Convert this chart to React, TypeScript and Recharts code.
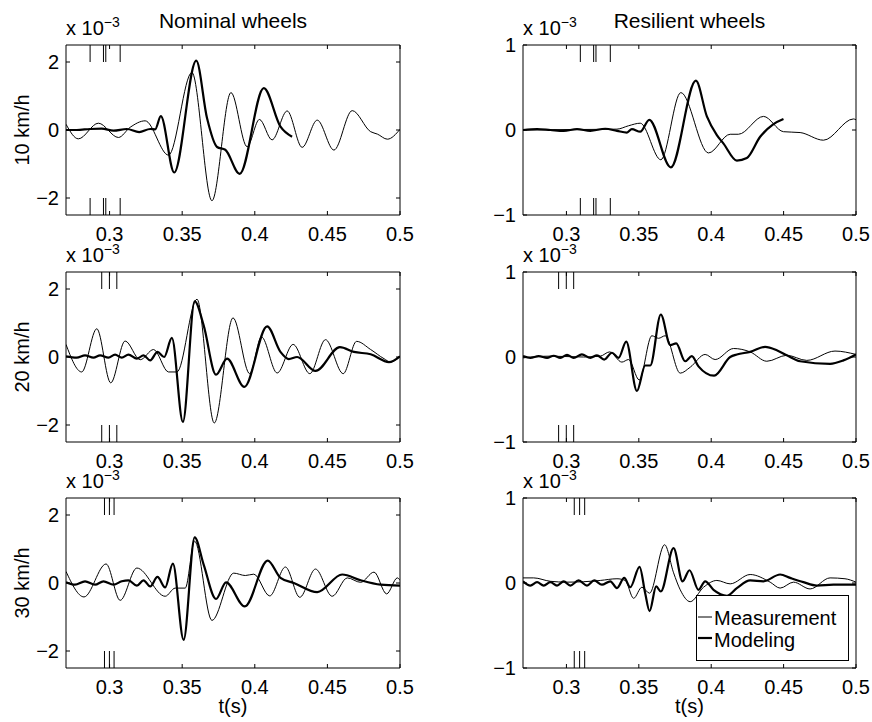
import React from 'react';
import { LineChart, Line, XAxis, YAxis, ReferenceLine, Legend } from 'recharts';

type Pt = [number, number];

const FONT = '"Liberation Sans", Arial, Helvetica, sans-serif';

const TIME_DOMAIN: [number, number] = [0.27, 0.5];
const TIME_TICKS = [0.3, 0.35, 0.4, 0.45, 0.5];
const NOMINAL_DOMAIN: [number, number] = [-2.5, 2.5];
const NOMINAL_TICKS = [-2, 0, 2];
const RESILIENT_DOMAIN: [number, number] = [-1, 1];
const RESILIENT_TICKS = [-1, 0, 1];
const WHEEL_TITLES = ['Nominal wheels', 'Resilient wheels'];
const SPEED_LABELS = ['10 km/h', '20 km/h', '30 km/h'];
const SERIES_NAMES = ['Measurement', 'Modeling'];
const SCALE_BASE = 'x 10';
const SCALE_EXP = '\u22123';
const X_LABEL = 't(s)';

// ---- Nominal wheels, 10 km/h ----
const nominal10Measurement: Pt[] = [
  [0.27, 0.17], [0.2785, -0.26], [0.2923, 0.2], [0.3061, -0.22], [0.3142, 0.08], [0.3245, 0.27],
  [0.3406, -0.74], [0.3567, 1.69], [0.3705, -2.08], [0.3836, 1.1], [0.3947, -0.49], [0.4032, 0.31],
  [0.4119, -0.29], [0.4223, 0.56], [0.4326, -0.51], [0.443, 0.29], [0.4545, -0.59], [0.4671, 0.57],
  [0.4798, -0.05], [0.4844, -0.12], [0.4913, -0.27], [0.5, 0.02],
];
const nominal10Modeling: Pt[] = [
  [0.27, 0.0], [0.2774, 0.0], [0.2866, 0.03], [0.2946, 0.04], [0.3027, -0.02], [0.3119, 0.03],
  [0.3204, -0.06], [0.328, 0.03], [0.3314, 0.02], [0.3353, 0.41], [0.3445, -1.25], [0.3597, 2.04],
  [0.3671, 0.35], [0.374, -0.5], [0.3797, -0.58], [0.3896, -1.29], [0.4062, 1.23], [0.4177, 0.1],
  [0.4257, -0.2],
];
const nominal10Marks = [0.2866, 0.2958, 0.2974, 0.3073];

// ---- Resilient wheels, 10 km/h ----
const resilient10Measurement: Pt[] = [
  [0.27, 0.0], [0.3004, 0.005], [0.3349, 0.01], [0.3429, 0.05], [0.351, 0.08], [0.3652, -0.35],
  [0.379, 0.44], [0.3981, -0.27], [0.4131, -0.05], [0.4188, -0.05], [0.4361, 0.16], [0.4499, -0.02],
  [0.4614, -0.03], [0.4775, -0.12], [0.4982, 0.13], [0.5, 0.12],
];
const resilient10Modeling: Pt[] = [
  [0.27, 0.0], [0.2797, 0.01], [0.2889, 0.0], [0.2981, -0.01], [0.3073, 0.01], [0.3165, -0.01],
  [0.3268, 0.015], [0.3349, -0.01], [0.3418, -0.03], [0.3452, 0.01], [0.351, -0.02], [0.3572, 0.12],
  [0.3721, -0.44], [0.3894, 0.58], [0.397, 0.16], [0.4039, -0.06], [0.4085, -0.16], [0.4177, -0.36],
  [0.4246, -0.33], [0.4338, -0.08], [0.443, 0.07], [0.4499, 0.13],
];
const resilient10Marks = [0.3096, 0.3188, 0.3204, 0.3303];

// ---- Nominal wheels, 20 km/h ----
const nominal20Measurement: Pt[] = [
  [0.27, 0.37], [0.2808, -0.44], [0.2912, 0.83], [0.3008, -0.76], [0.3107, 0.47], [0.3211, -0.08],
  [0.3303, 0.22], [0.3406, -0.44], [0.3464, -0.44], [0.3602, 1.7], [0.3721, -1.94], [0.385, 1.15],
  [0.3965, -0.49], [0.4046, 0.59], [0.4154, -0.47], [0.4264, 0.37], [0.4379, -0.49], [0.4487, 0.51],
  [0.4609, -0.49], [0.4701, 0.46], [0.4798, 0.22], [0.489, -0.05], [0.4936, -0.15], [0.5, 0.02],
];
const nominal20Modeling: Pt[] = [
  [0.27, 0.02], [0.2774, -0.02], [0.2831, 0.05], [0.2889, -0.02], [0.2935, 0.05], [0.2992, -0.02],
  [0.3038, 0.07], [0.3084, -0.02], [0.313, 0.07], [0.3188, -0.05], [0.3234, 0.05], [0.328, -0.1],
  [0.333, 0.15], [0.3376, 0.0], [0.3429, 0.56], [0.3505, -1.91], [0.3586, 1.64], [0.3648, 0.93],
  [0.3733, -0.52], [0.3809, -0.05], [0.3928, -0.88], [0.4085, 0.9], [0.4177, 0.15], [0.4234, -0.06],
  [0.4292, 0.0], [0.4418, -0.41], [0.4586, 0.29], [0.4683, 0.15], [0.4798, 0.08], [0.4924, -0.15],
  [0.5, 0.02],
];
const nominal20Marks = [0.2946, 0.2999, 0.305];

// ---- Resilient wheels, 20 km/h ----
const resilient20Measurement: Pt[] = [
  [0.27, -0.01], [0.2889, 0.01], [0.3119, 0.0], [0.3234, 0.01], [0.3298, 0.06], [0.3383, -0.06],
  [0.3429, -0.03], [0.3503, -0.27], [0.359, 0.25], [0.3636, 0.22], [0.3682, 0.25], [0.3786, -0.19],
  [0.3855, -0.12], [0.3958, 0.03], [0.4027, -0.03], [0.4154, 0.1], [0.4269, 0.06], [0.4384, -0.05],
  [0.4522, 0.02], [0.466, -0.04], [0.4855, 0.07], [0.5, 0.03],
];
const resilient20Modeling: Pt[] = [
  [0.27, 0.01], [0.2751, -0.01], [0.2808, 0.01], [0.2866, -0.01], [0.2912, 0.015], [0.2958, -0.01],
  [0.3004, 0.025], [0.305, -0.01], [0.3107, 0.03], [0.3165, -0.01], [0.3211, 0.02], [0.3261, -0.03],
  [0.3314, 0.05], [0.336, -0.01], [0.3413, 0.18], [0.3487, -0.4], [0.3544, -0.1], [0.3579, -0.1],
  [0.3652, 0.5], [0.3717, 0.14], [0.3758, 0.16], [0.382, -0.05], [0.3866, 0.01], [0.3912, -0.11],
  [0.402, -0.22], [0.4131, 0.0], [0.4177, 0.03], [0.4269, 0.06], [0.4372, 0.12], [0.4453, 0.08],
  [0.4522, 0.02], [0.4614, -0.05], [0.4821, -0.08], [0.4913, -0.04], [0.5, 0.03],
];
const resilient20Marks = [0.2946, 0.2999, 0.305];

// ---- Nominal wheels, 30 km/h ----
const nominal30Measurement: Pt[] = [
  [0.27, 0.34], [0.2824, -0.41], [0.2976, 0.56], [0.3073, -0.51], [0.3188, 0.44], [0.3383, -0.39],
  [0.3452, -0.15], [0.3521, -0.15], [0.3586, 1.23], [0.3705, -1.1], [0.3855, 0.29], [0.3935, 0.22],
  [0.3993, 0.26], [0.4103, -0.38], [0.4211, 0.47], [0.431, -0.42], [0.4418, 0.41], [0.4533, -0.39],
  [0.4637, 0.15], [0.4729, 0.02], [0.4821, 0.32], [0.4908, -0.32], [0.4982, 0.15], [0.5, 0.08],
];
const nominal30Modeling: Pt[] = [
  [0.27, 0.02], [0.2762, -0.05], [0.2831, 0.05], [0.29, -0.05], [0.2958, 0.05], [0.3027, -0.05],
  [0.3084, 0.05], [0.313, 0.08], [0.3188, -0.08], [0.3234, 0.08], [0.328, -0.1], [0.333, 0.18],
  [0.3383, -0.13], [0.3436, 0.57], [0.351, -1.67], [0.3586, 1.34], [0.3648, 0.54], [0.3733, -0.47],
  [0.3802, 0.02], [0.3931, -0.69], [0.4089, 0.66], [0.4177, 0.15], [0.4269, 0.0], [0.443, -0.27],
  [0.4602, 0.25], [0.4729, 0.08], [0.4867, -0.05], [0.5, -0.08],
];
const nominal30Marks = [0.2965, 0.2999, 0.3031];

// ---- Resilient wheels, 30 km/h ----
const resilient30Measurement: Pt[] = [
  [0.27, 0.06], [0.2774, 0.06], [0.2889, 0.02], [0.3004, 0.01], [0.3119, 0.015], [0.3234, 0.03],
  [0.3349, 0.05], [0.3406, 0.03], [0.3464, -0.18], [0.3521, -0.05], [0.3574, -0.12], [0.3678, 0.45],
  [0.374, 0.12], [0.3786, -0.08], [0.3855, -0.22], [0.3947, -0.05], [0.4039, 0.03], [0.4131, -0.01],
  [0.4269, 0.1], [0.4407, 0.01], [0.4476, -0.06], [0.4568, 0.01], [0.4683, -0.07], [0.4821, 0.06],
  [0.4924, 0.05], [0.5, 0.01],
];
const resilient30Modeling: Pt[] = [
  [0.27, 0.02], [0.2751, -0.03], [0.2797, 0.01], [0.2843, -0.03], [0.2889, 0.01], [0.2935, -0.03],
  [0.2981, 0.02], [0.3027, -0.03], [0.3084, 0.03], [0.3142, -0.03], [0.3192, 0.03], [0.3245, -0.02],
  [0.3303, 0.02], [0.3349, -0.06], [0.3399, 0.06], [0.3441, -0.05], [0.3505, 0.19], [0.3544, -0.12],
  [0.3574, -0.33], [0.362, -0.04], [0.3652, -0.1], [0.374, 0.41], [0.3802, 0.02], [0.385, 0.15],
  [0.3912, -0.08], [0.3958, 0.02], [0.4016, -0.08], [0.4108, -0.15], [0.4177, -0.06], [0.4269, 0.03],
  [0.4361, 0.02], [0.4476, 0.1], [0.4545, 0.06], [0.4637, 0.01], [0.4729, -0.03], [0.4844, -0.02],
  [0.5, -0.02],
];
const resilient30Marks = [0.3054, 0.3091, 0.3126];

// ---- layout (pixels) ----
const COL_LEFT = [66, 523];
const COL_WIDTH = [334, 333];
const ROW_TOP = [45, 272, 498];
const PLOT_H = 170;
const TICK_PX = 4;

const toRows = (pts: Pt[]) => pts.map(([t, v]) => ({ t, v }));
const fmtMinus = (v: number) => String(v).replace('-', '\u2212');

const renderLegend = (props: any) => {
  const payload = props.payload || [];
  return (
    <svg width={153} height={66} style={{ display: 'block', fontFamily: FONT }}>
      <rect x={0.5} y={0.5} width={152} height={65} fill="#fff" stroke="#000" strokeWidth={1} />
      {payload.map((p: any, i: number) => (
        <g key={i}>
          <line
            x1={2}
            x2={16}
            y1={22 + 21 * i}
            y2={22 + 21 * i}
            stroke="#000"
            strokeWidth={(p.payload && p.payload.strokeWidth) || 1}
          />
          <text x={18} y={30 + 21.5 * i} fontSize={20} fill="#000">
            {p.value}
          </text>
        </g>
      ))}
    </svg>
  );
};

type PanelProps = {
  col: number;
  row: number;
  meas: Pt[];
  mod: Pt[];
  marks: number[];
  domain: [number, number];
  ticks: number[];
  legend?: boolean;
};

function Panel({ col, row, meas, mod, marks, domain, ticks, legend }: PanelProps) {
  const plotLeft = COL_LEFT[col];
  const plotTop = ROW_TOP[row];
  const plotW = COL_WIDTH[col];
  const ML = 10;
  const YW = 50;
  const MR = 26;
  const MT = 10;
  const XH = 30;
  const MB = 10;
  const width = plotW + ML + YW + MR;
  const height = PLOT_H + MT + XH + MB;
  const span = (domain[1] - domain[0]) * 0.1;
  const tickLenY = ((domain[1] - domain[0]) * TICK_PX) / PLOT_H;
  const tickLenX = ((TIME_DOMAIN[1] - TIME_DOMAIN[0]) * TICK_PX) / plotW;
  const axisCommonX = {
    type: 'number' as const,
    domain: TIME_DOMAIN,
    ticks: TIME_TICKS,
    interval: 0 as const,
    allowDataOverflow: true,
  };
  const axisCommonY = {
    type: 'number' as const,
    domain: domain,
    ticks: ticks,
    interval: 0 as const,
    allowDataOverflow: true,
  };
  const tickSegs: { x: number; y: number }[][] = [];
  TIME_TICKS.forEach((t) => {
    tickSegs.push([{ x: t, y: domain[0] }, { x: t, y: domain[0] + tickLenY }]);
    tickSegs.push([{ x: t, y: domain[1] }, { x: t, y: domain[1] - tickLenY }]);
  });
  ticks.forEach((v) => {
    tickSegs.push([{ x: TIME_DOMAIN[0], y: v }, { x: TIME_DOMAIN[0] + tickLenX, y: v }]);
    tickSegs.push([{ x: TIME_DOMAIN[1], y: v }, { x: TIME_DOMAIN[1] - tickLenX, y: v }]);
  });
  return (
    <div style={{ position: 'absolute', left: plotLeft - ML - YW, top: plotTop - MT }}>
      <LineChart width={width} height={height} margin={{ top: MT, right: MR, bottom: MB, left: ML }}>
        <XAxis
          xAxisId="b"
          dataKey="t"
          {...axisCommonX}
          height={XH}
          tickSize={0}
          tickMargin={12}
          tickLine={false}
          axisLine={{ stroke: '#000' }}
          tick={{ fill: '#000', fontSize: 20 }}
        />
        <XAxis xAxisId="tIn" orientation="top" mirror {...axisCommonX} tick={false} tickLine={false} axisLine={{ stroke: '#000' }} />
        <YAxis
          yAxisId="l"
          {...axisCommonY}
          width={YW}
          tickSize={0}
          tickMargin={7}
          tickLine={false}
          axisLine={{ stroke: '#000' }}
          tick={{ fill: '#000', fontSize: 20 }}
          tickFormatter={fmtMinus}
        />
        <YAxis yAxisId="rIn" orientation="right" mirror {...axisCommonY} tick={false} tickLine={false} axisLine={{ stroke: '#000' }} />
        {tickSegs.map((seg, i) => (
          <ReferenceLine key={'tk' + i} xAxisId="b" yAxisId="l" segment={seg} stroke="#000" strokeWidth={1} />
        ))}
        {marks.map((m, i) => (
          <ReferenceLine
            key={'mt' + i}
            xAxisId="b"
            yAxisId="l"
            segment={[{ x: m, y: domain[1] }, { x: m, y: domain[1] - span }]}
            stroke="#000"
            strokeWidth={1}
          />
        ))}
        {marks.map((m, i) => (
          <ReferenceLine
            key={'mb' + i}
            xAxisId="b"
            yAxisId="l"
            segment={[{ x: m, y: domain[0] }, { x: m, y: domain[0] + span }]}
            stroke="#000"
            strokeWidth={1}
          />
        ))}
        <Line
          xAxisId="b"
          yAxisId="l"
          data={toRows(meas)}
          dataKey="v"
          name={SERIES_NAMES[0]}
          type="monotone"
          stroke="#000"
          strokeWidth={1}
          dot={false}
          activeDot={false}
          isAnimationActive={false}
        />
        <Line
          xAxisId="b"
          yAxisId="l"
          data={toRows(mod)}
          dataKey="v"
          name={SERIES_NAMES[1]}
          type="monotone"
          stroke="#000"
          strokeWidth={2.2}
          dot={false}
          activeDot={false}
          isAnimationActive={false}
        />
        {legend && (
          <Legend
            layout="horizontal"
            verticalAlign="middle"
            align="center"
            content={renderLegend}
            wrapperStyle={{ left: 233, top: 107, width: 153, height: 66, lineHeight: 0 }}
          />
        )}
      </LineChart>
    </div>
  );
}

export default function App() {
  const panels: PanelProps[] = [
    { col: 0, row: 0, meas: nominal10Measurement, mod: nominal10Modeling, marks: nominal10Marks, domain: NOMINAL_DOMAIN, ticks: NOMINAL_TICKS },
    { col: 1, row: 0, meas: resilient10Measurement, mod: resilient10Modeling, marks: resilient10Marks, domain: RESILIENT_DOMAIN, ticks: RESILIENT_TICKS },
    { col: 0, row: 1, meas: nominal20Measurement, mod: nominal20Modeling, marks: nominal20Marks, domain: NOMINAL_DOMAIN, ticks: NOMINAL_TICKS },
    { col: 1, row: 1, meas: resilient20Measurement, mod: resilient20Modeling, marks: resilient20Marks, domain: RESILIENT_DOMAIN, ticks: RESILIENT_TICKS },
    { col: 0, row: 2, meas: nominal30Measurement, mod: nominal30Modeling, marks: nominal30Marks, domain: NOMINAL_DOMAIN, ticks: NOMINAL_TICKS },
    { col: 1, row: 2, meas: resilient30Measurement, mod: resilient30Modeling, marks: resilient30Marks, domain: RESILIENT_DOMAIN, ticks: RESILIENT_TICKS, legend: true },
  ];
  return (
    <div
      style={{
        position: 'absolute',
        left: 0,
        top: 0,
        width: 872,
        height: 722,
        background: '#fff',
        fontFamily: FONT,
        overflow: 'hidden',
      }}
    >
      {panels.map((p, i) => (
        <Panel key={i} {...p} />
      ))}
      <svg
        width={872}
        height={722}
        style={{ position: 'absolute', left: 0, top: 0, pointerEvents: 'none', fontFamily: FONT }}
      >
        {WHEEL_TITLES.map((title, c) => (
          <text key={'t' + c} x={COL_LEFT[c] + COL_WIDTH[c] / 2} y={28} fontSize={21} textAnchor="middle" fill="#000">
            {title}
          </text>
        ))}
        {SPEED_LABELS.map((lab, r) => (
          <text
            key={'s' + r}
            x={29}
            y={ROW_TOP[r] + PLOT_H / 2}
            fontSize={20}
            textAnchor="middle"
            fill="#000"
            transform={`rotate(-90 29 ${ROW_TOP[r] + PLOT_H / 2})`}
          >
            {lab}
          </text>
        ))}
        {ROW_TOP.map((top, r) =>
          COL_LEFT.map((left, c) => (
            <text key={'x' + r + c} x={left} y={top - 10} fontSize={20} fill="#000">
              {SCALE_BASE}
              <tspan dy={-8} fontSize={14}>
                {SCALE_EXP}
              </tspan>
            </text>
          ))
        )}
        {COL_LEFT.map((left, c) => (
          <text key={'xl' + c} x={left + COL_WIDTH[c] / 2} y={713} fontSize={20} textAnchor="middle" fill="#000">
            {X_LABEL}
          </text>
        ))}
      </svg>
    </div>
  );
}
